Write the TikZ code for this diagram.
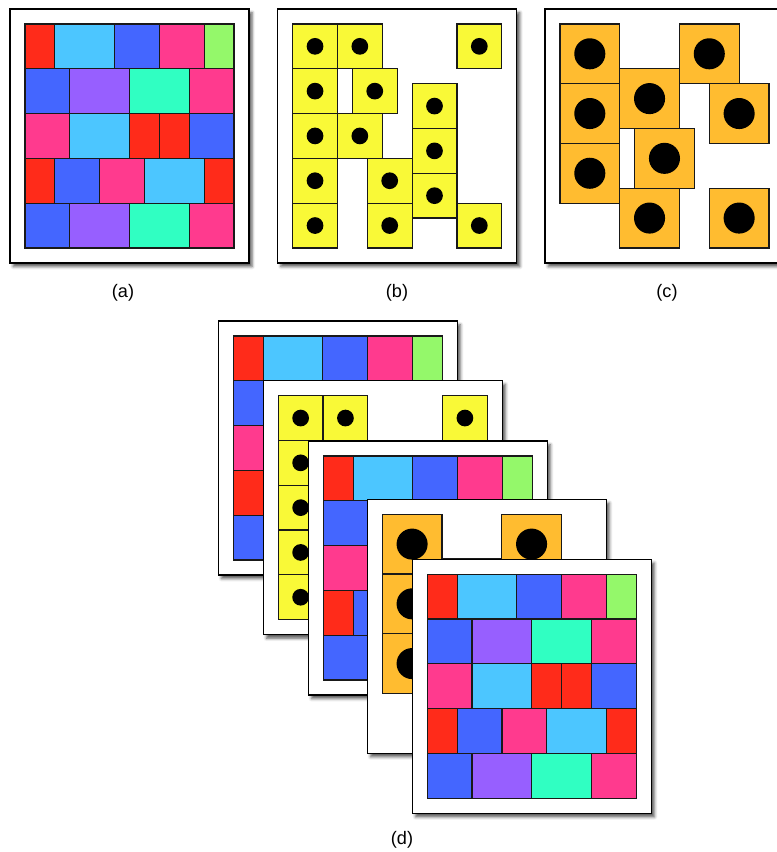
\documentclass[tikz,border=0pt]{standalone}
\usepackage{fontspec}
\setmainfont{Liberation Sans}
\usetikzlibrary{shadows.blur}
\definecolor{cR}{HTML}{FF2B1A}
\definecolor{cC}{HTML}{4CC6FF}
\definecolor{cB}{HTML}{4466FF}
\definecolor{cP}{HTML}{FF3A8E}
\definecolor{cG}{HTML}{94F86A}
\definecolor{cV}{HTML}{975FFF}
\definecolor{cT}{HTML}{30FFC2}
\definecolor{cY}{HTML}{F9F937}
\definecolor{cO}{HTML}{FFBC30}
\tikzset{
  panelframe/.style={draw=black, fill=white, line width=1pt,
    blur shadow={shadow xshift=2.4pt, shadow yshift=-2.8pt, shadow blur radius=2.2pt, shadow opacity=65}},
  cell/.style={draw=black!90, line width=0.9pt},
  lab/.style={font=\fontsize{13.6}{16}\selectfont, inner sep=0pt},
}
\newcommand\panelA[2]{%
  \begin{scope}[shift={(#1,#2)}]
  \begin{scope}[x=11.2pt, y=-11.2pt]
    \path[panelframe] (0,0) rectangle (16,17);
    \foreach \r/\cells in {
        0/{0/2/cR,2/4/cC,6/3/cB,9/3/cP,12/2/cG},
        1/{0/3/cB,3/4/cV,7/4/cT,11/3/cP},
        2/{0/3/cP,3/4/cC,7/2/cR,9/2/cR,11/3/cB},
        3/{0/2/cR,2/3/cB,5/3/cP,8/4/cC,12/2/cR},
        4/{0/3/cB,3/4/cV,7/4/cT,11/3/cP}}{
      \foreach \a/\w/\c in \cells {
        \path[cell, fill=\c] (\a+1,\r*3+1) rectangle ++(\w,3);
      }
    }
  \end{scope}
  \end{scope}}
\newcommand\panelB[2]{%
  \begin{scope}[shift={(#1,#2)}]
  \begin{scope}[x=11.2pt, y=-11.2pt]
    \path[panelframe] (0,0) rectangle (16,17);
    \foreach \a/\b in {0/0,3/0,11/0,0/3,4/3,0/6,3/6,8/4,8/7,8/10,0/9,5/9,0/12,5/12,11/12}{
      \path[cell, fill=cY] (\a+1,\b+1) rectangle ++(3,3);
      \fill[black] (\a+2.5,\b+2.5) circle[radius=0.56];
    }
  \end{scope}
  \end{scope}}
\newcommand\panelC[2]{%
  \begin{scope}[shift={(#1,#2)}]
  \begin{scope}[x=11.2pt, y=-11.2pt]
    \path[panelframe] (0,0) rectangle (16,17);
    \foreach \a/\b in {0/0,0/4,0/8,4/3,8/0,10/4,5/7,4/11,10/11}{
      \path[cell, fill=cO] (\a+1,\b+1) rectangle ++(4,4);
      \fill[black] (\a+3,\b+3) circle[radius=1.04];
    }
  \end{scope}
  \end{scope}}
\begin{document}
\begin{tikzpicture}[x=0.75pt,y=-0.75pt]
\useasboundingbox (0,0) rectangle (777,852);
\panelA{10}{9}
\panelB{277.7}{9}
\panelC{545}{9}
\node[lab] (la) at (123,293) {(a)};
\node[lab] (lb) at (397,293) {(b)};
\node[lab] (lc) at (667,293) {(c)};
\panelA{218.3}{321}
\panelB{263.3}{380.7}
\panelA{308.3}{441}
\panelC{367.3}{499.3}
\panelA{412.3}{559.3}
\node[lab] (ld) at (402,840) {(d)};
\end{tikzpicture}
\end{document}
